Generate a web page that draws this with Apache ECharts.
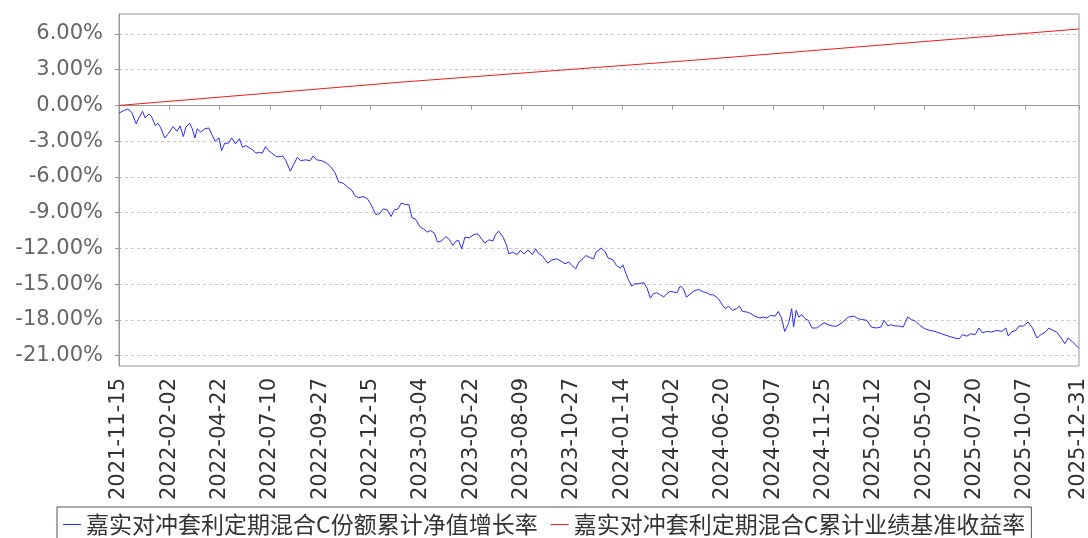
<!DOCTYPE html>
<html>
<head>
<meta charset="utf-8">
<script src="https://cdn.jsdelivr.net/npm/echarts@6/dist/echarts.min.js"></script>
<style>
    body { margin: 0; background: #fff; }
    #chart { width: 1088px; height: 538px; }
</style>
</head>
<body>
<div id="chart"></div>
<script>
// x values are day offsets counted from START_DATE
const START_DATE = '2021-11-15';

const tickDates = ['2021-11-15', '2022-02-02', '2022-04-22', '2022-07-10', '2022-09-27', '2022-12-15',
    '2023-03-04', '2023-05-22', '2023-08-09', '2023-10-27', '2024-01-14', '2024-04-02', '2024-06-20',
    '2024-09-07', '2024-11-25', '2025-02-12', '2025-05-02', '2025-07-20', '2025-10-07', '2025-12-31'];

const yTicks = [-21, -18, -15, -12, -9, -6, -3, 0, 3, 6];

const seriesNames = ['嘉实对冲套利定期混合C份额累计净值增长率', '嘉实对冲套利定期混合C累计业绩基准收益率'];

// [day offset, %]
const navPoints = [
    [0, -0.65], [5, -0.49], [14, -0.29], [20, -0.57], [27, -1.55], [31, -1.05], [37, -0.49], [41, -1.05], [47, -0.71], [51, -0.94],
    [57, -1.69], [61, -1.49], [65, -1.83], [72, -2.73], [78, -2.33], [85, -1.78], [91, -2.16], [96, -1.72], [101, -2.62], [105, -1.83],
    [111, -1.49], [115, -1.95], [119, -2.73], [123, -1.95], [128, -2.25], [135, -1.95], [141, -1.89], [146, -2.45], [151, -3.00], [157, -2.73],
    [161, -3.79], [166, -3.17], [172, -3.17], [177, -2.73], [183, -3.23], [189, -2.79], [194, -3.51], [199, -3.37], [205, -3.57], [210, -3.73],
    [215, -4.01], [220, -3.93], [225, -4.01], [230, -3.46], [235, -3.79], [240, -4.01], [247, -4.30], [252, -4.30], [257, -4.24], [262, -4.63],
    [269, -5.52], [274, -4.97], [280, -4.35], [285, -4.63], [293, -4.57], [300, -4.63], [305, -4.24], [310, -4.57], [318, -4.63], [326, -4.85],
    [332, -5.13], [339, -5.64], [345, -6.44], [352, -6.53], [359, -6.86], [366, -7.15], [370, -7.57], [376, -7.76], [383, -7.65], [390, -7.84],
    [395, -8.26], [403, -9.16], [409, -9.10], [415, -8.68], [421, -8.77], [427, -9.33], [432, -8.77], [438, -8.68], [443, -8.20], [450, -8.32],
    [455, -8.32], [460, -9.44], [465, -9.52], [473, -10.22], [478, -10.36], [484, -10.64], [489, -10.50], [495, -10.72], [500, -11.48], [506, -11.39],
    [513, -11.01], [519, -11.28], [524, -11.76], [529, -11.39], [533, -11.34], [538, -12.04], [543, -11.06], [550, -11.12], [557, -10.84], [563, -10.78],
    [568, -11.12], [574, -11.56], [581, -11.28], [587, -11.39], [591, -10.84], [596, -10.55], [603, -11.06], [608, -11.68], [612, -12.46], [618, -12.32],
    [625, -12.52], [630, -12.18], [636, -12.46], [642, -12.14], [649, -12.52], [654, -12.04], [659, -12.46], [664, -12.60], [673, -13.24], [680, -12.96],
    [687, -12.88], [694, -13.07], [700, -13.30], [706, -13.15], [711, -13.44], [717, -13.72], [722, -13.15], [728, -12.88], [733, -12.60], [740, -12.79],
    [745, -12.88], [749, -12.32], [752, -12.18], [757, -11.98], [763, -12.27], [768, -12.82], [775, -12.94], [781, -13.44], [787, -13.66], [791, -13.38],
    [794, -13.30], [796, -14.14], [799, -14.56], [805, -15.17], [809, -14.98], [815, -14.98], [824, -14.89], [829, -15.34], [834, -16.18], [839, -15.81],
    [844, -15.73], [850, -15.90], [855, -16.09], [860, -15.81], [865, -15.62], [871, -15.67], [876, -15.73], [881, -15.17], [886, -15.39], [891, -16.09],
    [899, -15.73], [904, -15.54], [910, -15.45], [918, -15.67], [923, -15.73], [928, -15.90], [933, -15.90], [941, -16.23], [947, -16.74], [952, -17.07],
    [957, -16.85], [963, -17.21], [969, -17.07], [974, -16.85], [979, -17.30], [986, -17.35], [992, -17.49], [998, -17.69], [1006, -17.85], [1011, -17.77],
    [1017, -17.85], [1023, -17.63], [1030, -17.69], [1035, -17.30], [1040, -17.85], [1045, -18.98], [1051, -18.33], [1056, -17.07], [1059, -18.61], [1063, -17.21],
    [1067, -17.77], [1072, -17.58], [1077, -17.91], [1082, -18.05], [1088, -18.69], [1095, -18.69], [1101, -18.47], [1107, -18.25], [1113, -18.41], [1120, -18.52],
    [1126, -18.55], [1129, -18.61], [1135, -18.25], [1145, -17.77], [1154, -17.69], [1160, -17.91], [1166, -17.97], [1174, -18.05], [1181, -18.61], [1189, -18.69],
    [1196, -18.61], [1201, -18.05], [1207, -18.52], [1212, -18.41], [1218, -18.52], [1224, -18.52], [1231, -18.61], [1238, -17.77], [1244, -17.97], [1251, -18.14],
    [1257, -18.47], [1265, -18.75], [1273, -18.89], [1281, -18.98], [1291, -19.17], [1302, -19.37], [1312, -19.53], [1319, -19.59], [1324, -19.25], [1331, -19.37],
    [1337, -19.17], [1344, -19.25], [1350, -18.69], [1355, -19.09], [1362, -18.98], [1370, -19.03], [1378, -18.89], [1386, -18.98], [1392, -18.69], [1396, -19.37],
    [1401, -19.03], [1408, -18.89], [1413, -18.52], [1420, -18.52], [1427, -18.18], [1434, -18.69], [1441, -19.53], [1447, -19.25], [1454, -19.03], [1460, -18.69],
    [1466, -18.89], [1472, -19.03], [1479, -19.53], [1485, -20.01], [1490, -19.53], [1497, -19.87], [1507, -20.40]
];

const benchPoints = [[0, 0.0], [441, 1.95], [912, 3.84], [1507, 6.42]];

const DAY = 86400000;
function toUTC(s) {
    let p = s.split('-');
    return Date.UTC(+p[0], +p[1] - 1, +p[2]);
}
function dayOffset(s) {
    return Math.round((toUTC(s) - toUTC(START_DATE)) / DAY);
}
function offsetToDate(d) {
    return new Date(toUTC(START_DATE) + d * DAY).toISOString().slice(0, 10);
}

const tickOffsets = tickDates.map(dayOffset);

let myChart = echarts.init(document.getElementById('chart'));

let option = {
    backgroundColor: '#fff',
    animation: false,
    grid: {
        left: 119,
        right: 9,
        top: 14,
        bottom: 172,
        show: true,
        backgroundColor: '#fff',
        borderColor: '#999',
        borderWidth: 1,
        outerBoundsMode: 'none'
    },
    legend: {
        data: seriesNames,
        left: 57,
        top: 507,
        padding: [6, 6, 8, 6],
        itemGap: 13,
        itemWidth: 18,
        itemHeight: 1,
        icon: 'rect',
        borderColor: '#555',
        borderWidth: 1,
        textStyle: {
            fontFamily: 'Noto Sans CJK SC',
            fontSize: 23,
            color: '#333'
        }
    },
    xAxis: {
        type: 'value',
        min: 0,
        max: tickOffsets[tickOffsets.length - 1],
        offset: 6,
        axisLine: { lineStyle: { color: '#999' } },
        axisTick: { length: 4, lineStyle: { color: '#999' }, customValues: tickOffsets },
        splitLine: { show: false },
        axisLabel: {
            customValues: tickOffsets,
            rotate: 90,
            margin: 6,
            fontFamily: 'DejaVu Sans',
            fontSize: 21,
            color: '#333',
            formatter: function (v) { return offsetToDate(v); }
        }
    },
    yAxis: {
        type: 'value',
        min: -21.88,
        max: 7.68,
        offset: 4,
        axisLine: { show: true, lineStyle: { color: '#999' } },
        axisTick: { show: true, length: 4, lineStyle: { color: '#999' }, customValues: yTicks },
        splitLine: {
            show: true,
            lineStyle: { color: '#c8c8c8', type: [3, 3], width: 1 }
        },
        axisLabel: {
            customValues: yTicks,
            margin: 12,
            fontFamily: 'DejaVu Sans',
            fontSize: 21,
            color: '#666',
            formatter: function (v) { return v.toFixed(2) + '%'; }
        }
    },
    series: [
        {
            name: seriesNames[0],
            type: 'line',
            data: navPoints,
            showSymbol: false,
            color: '#2b2bf2',
            lineStyle: { width: 1, color: '#2b2bf2' }
        },
        {
            name: seriesNames[1],
            type: 'line',
            data: benchPoints,
            showSymbol: false,
            color: '#f01c1c',
            lineStyle: { width: 1, color: '#f01c1c' }
        }
    ]
};

myChart.setOption(option, true);
</script>
</body>
</html>
